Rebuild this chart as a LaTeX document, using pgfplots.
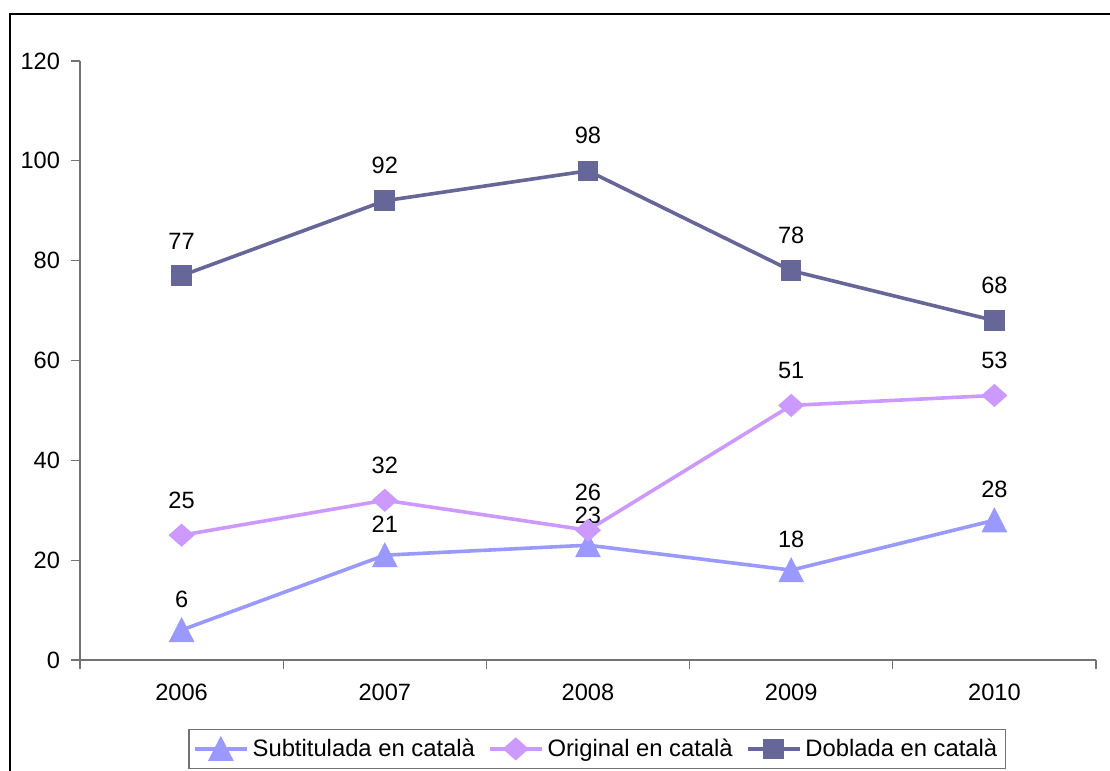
\documentclass[border=0pt]{standalone}
\usepackage{pgfplots}
\pgfplotsset{compat=1.18}
\usepackage{fontspec}
\setmainfont{Liberation Sans}
\definecolor{dobl}{HTML}{666699}
\definecolor{orig}{HTML}{CC99FF}
\definecolor{subt}{HTML}{9999FF}
\newcommand\f{\fontsize{11.8pt}{14pt}\selectfont}
\newcommand\fl{\fontsize{11.9pt}{14.3pt}\selectfont}
\begin{document}
\begin{tikzpicture}
\useasboundingbox (0,0) rectangle (555pt,385.5pt);
\clip (0,0) rectangle (555pt,385.5pt);
\draw[black, line width=1.1pt] (5pt,-5pt) rectangle (560pt,378.5pt);
\begin{axis}[
  at={(40pt,55.5pt)}, anchor=south west,
  scale only axis, width=508pt, height=299.5pt,
  xmin=2005.5, xmax=2010.5, ymin=0, ymax=120,
  axis x line=bottom, axis y line=left,
  axis line style={draw=gray!90!black, line width=0.6pt, -},
  xtick={2006,2007,2008,2009,2010},
  xticklabels={2006,2007,2008,2009,2010},
  minor xtick={2005.5,2006.5,2007.5,2008.5,2009.5,2010.5},
  ytick={0,20,40,60,80,100,120},
  tick align=outside,
  major tick length=4.5pt, minor tick length=4.5pt,
  x tick style={draw=none},
  minor x tick style={draw=gray!90!black, line width=0.6pt},
  y tick style={draw=gray!90!black, line width=0.6pt},
  /pgf/number format/assume math mode=true,
  /pgf/number format/1000 sep={},
  tick label style={font=\f, black},
  yticklabel style={xshift=-2pt},
  xticklabel style={yshift=-4pt},
  every node near coord/.append style={font=\f, black, anchor=south, inner sep=0pt, yshift=12.4pt},
  nodes near coords,
  legend columns=3,
  legend style={at={(axis description cs:0.509,-0.1152)}, anchor=north, draw=gray!90!black, line width=0.6pt, font=\fl, inner xsep=2pt, inner ysep=2.5pt,
    /tikz/every even column/.append style={column sep=4.5pt}},
  legend cell align=left,
  legend image code/.code={\draw[mark repeat=2, mark phase=2] plot coordinates {(0pt,0pt) (13pt,0pt) (26pt,0pt)};},
  clip=false,
]
\addplot[subt, line width=1.8pt, mark=triangle*, mark size=5.75pt, mark options={solid, yscale=1.12, yshift=-1.7pt},
  coordinate style/.condition={x==2008}{yshift=-0.8pt}] coordinates {(2006,6) (2007,21) (2008,23) (2009,18) (2010,28)};
\addlegendentry{Subtitulada en català}
\addplot[orig, line width=1.8pt, mark=diamond*, mark size=4.6pt, mark options={solid, xscale=1.5},
  coordinate style/.condition={x==2008}{yshift=1.5pt}] coordinates {(2006,25) (2007,32) (2008,26) (2009,51) (2010,53)};
\addlegendentry{Original en català}
\addplot[dobl, line width=1.8pt, mark=square*, mark size=4.25pt, mark options={solid}] coordinates {(2006,77) (2007,92) (2008,98) (2009,78) (2010,68)};
\addlegendentry{Doblada en català}
\end{axis}
\end{tikzpicture}
\end{document}
